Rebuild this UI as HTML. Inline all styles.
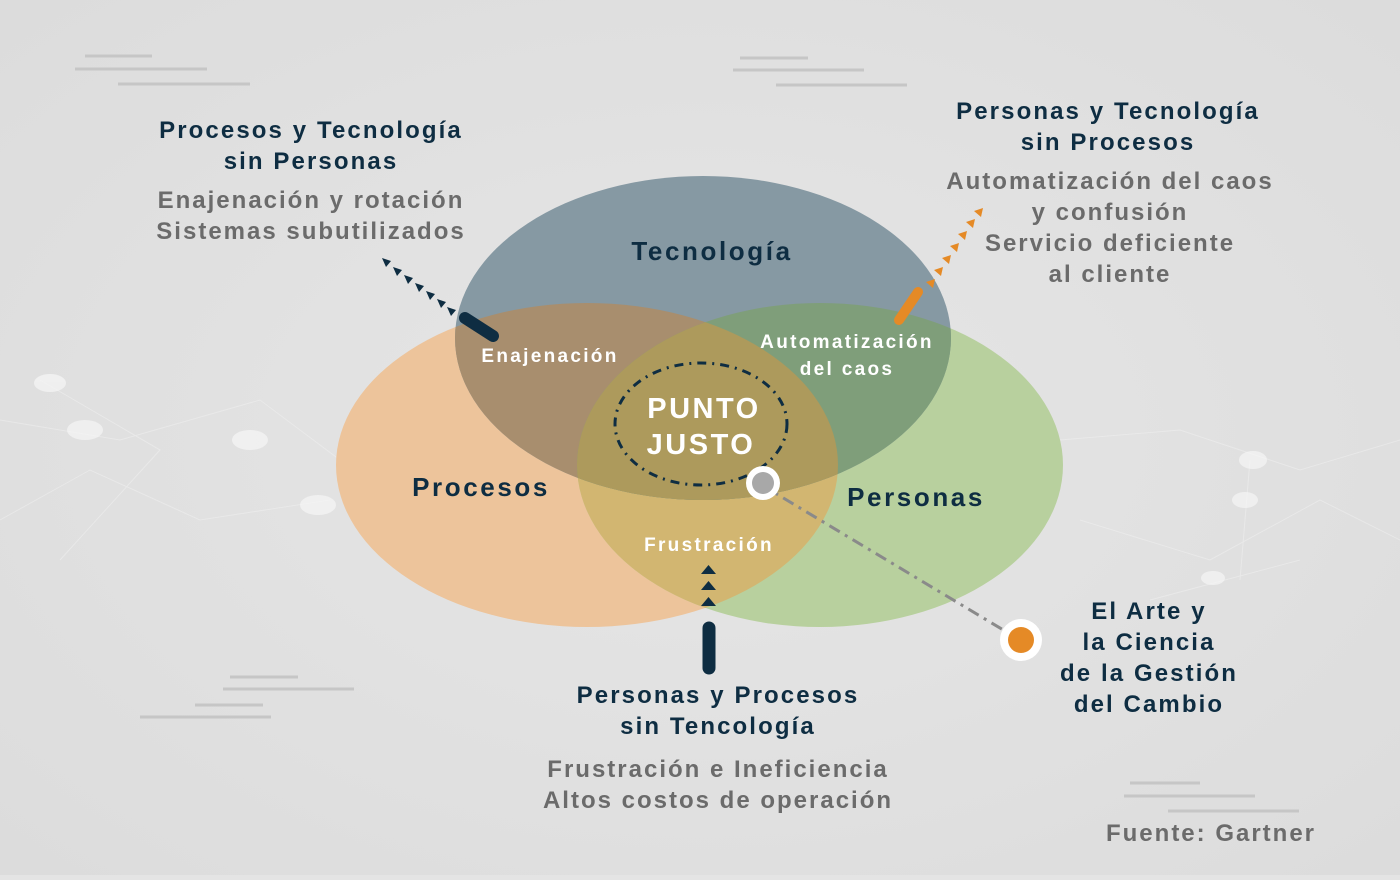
<!DOCTYPE html><html><head><meta charset="utf-8"><style>
body{margin:0;width:1400px;height:875px;overflow:hidden;background:#e4e4e4;font-family:"Liberation Sans",sans-serif}
</style></head><body>
<svg width="1400" height="875" viewBox="0 0 1400 875" xmlns="http://www.w3.org/2000/svg" font-family="Liberation Sans, sans-serif" font-weight="bold">
<defs>
<radialGradient id="bg" cx="0.5" cy="0.5" r="0.7"><stop offset="0" stop-color="#e6e6e6"/><stop offset="1" stop-color="#dcdcdc"/></radialGradient>
<clipPath id="cP"><ellipse cx="587" cy="465" rx="251" ry="162"/></clipPath>
<clipPath id="cG"><ellipse cx="820" cy="465" rx="243" ry="162"/></clipPath>
<clipPath id="cT"><ellipse cx="703" cy="338" rx="248" ry="162"/></clipPath>
</defs>
<rect width="1400" height="875" fill="url(#bg)"/>
<g stroke="#f2f2f2" stroke-width="1" opacity="0.5" fill="none">
<path d="M0 420 L120 440 L260 400 L340 460 M0 520 L90 470 L200 520 L330 500 M40 380 L160 450 L60 560 M1060 440 L1180 430 L1300 470 L1400 440 M1080 520 L1210 560 L1320 500 L1400 540 M1250 460 L1240 580 M1150 600 L1300 560"/>
</g>
<g fill="#f6f6f6" opacity="0.7"><ellipse cx="85" cy="430" rx="18" ry="10"/><ellipse cx="250" cy="440" rx="18" ry="10"/><ellipse cx="318" cy="505" rx="18" ry="10"/><ellipse cx="1253" cy="460" rx="14" ry="9"/><ellipse cx="1245" cy="500" rx="13" ry="8"/><ellipse cx="1213" cy="578" rx="12" ry="7"/><ellipse cx="50" cy="383" rx="16" ry="9"/></g>
<g stroke="#c6c6c6" stroke-width="3">
<line x1="85" y1="56" x2="152" y2="56"/><line x1="75" y1="69" x2="207" y2="69"/><line x1="118" y1="84" x2="250" y2="84"/>
<line x1="740" y1="58" x2="808" y2="58"/><line x1="733" y1="70" x2="864" y2="70"/><line x1="776" y1="85" x2="907" y2="85"/>
<line x1="230" y1="677" x2="298" y2="677"/><line x1="223" y1="689" x2="354" y2="689"/><line x1="195" y1="705" x2="263" y2="705"/><line x1="140" y1="717" x2="271" y2="717"/>
<line x1="1130" y1="783" x2="1200" y2="783"/><line x1="1124" y1="796" x2="1255" y2="796"/><line x1="1168" y1="811" x2="1299" y2="811"/>
</g>
<ellipse cx="587" cy="465" rx="251" ry="162" fill="#edc49b"/>
<ellipse cx="820" cy="465" rx="243" ry="162" fill="#b8d09e"/>
<ellipse cx="820" cy="465" rx="243" ry="162" fill="#d2b671" clip-path="url(#cP)"/>
<ellipse cx="703" cy="338" rx="248" ry="162" fill="#8699a3"/>
<g clip-path="url(#cT)"><ellipse cx="587" cy="465" rx="251" ry="162" fill="#a88e6e"/><ellipse cx="820" cy="465" rx="243" ry="162" fill="#7f9e7a"/>
<g clip-path="url(#cP)"><ellipse cx="820" cy="465" rx="243" ry="162" fill="#ad9a5c"/></g></g>
<ellipse cx="701" cy="424" rx="86" ry="61" fill="none" stroke="#0e2d42" stroke-width="3" stroke-dasharray="9 6 2 6"/>
<line x1="760" y1="484" x2="1020" y2="640" stroke="#8a8a8a" stroke-width="3" stroke-dasharray="12 6 3 6"/>
<circle cx="763" cy="483" r="17" fill="#fff"/><circle cx="763" cy="483" r="11" fill="#a8a8a8"/>
<circle cx="1021" cy="640" r="21" fill="#fff"/><circle cx="1021" cy="640" r="13" fill="#e58a26"/>
<line x1="465" y1="318" x2="493" y2="336" stroke="#0e2d42" stroke-width="12" stroke-linecap="round"/>
<g fill="#0e2d42"><path d="M382 258l9 3-5 6z"/><path d="M393 267l9 3-5 6z"/><path d="M404 275l9 3-5 6z"/><path d="M415 283l9 3-5 6z"/><path d="M426 291l9 3-5 6z"/><path d="M437 299l9 3-5 6z"/><path d="M447 307l9 3-5 6z"/></g>
<line x1="899" y1="320" x2="918" y2="292" stroke="#e58a26" stroke-width="10" stroke-linecap="round"/>
<g fill="#e58a26"><path d="M926 282l9-3-2 9z"/><path d="M934 270l9-3-2 9z"/><path d="M942 258l9-3-2 9z"/><path d="M950 246l9-3-2 9z"/><path d="M958 234l9-3-2 9z"/><path d="M966 222l9-3-2 9z"/><path d="M974 211l9-3-2 9z"/></g>
<line x1="709" y1="628" x2="709" y2="668" stroke="#0e2d42" stroke-width="13" stroke-linecap="round"/>
<g fill="#0e2d42"><path d="M701 574h15l-7.5-9z"/><path d="M701 590h15l-7.5-9z"/><path d="M701 606h15l-7.5-9z"/></g>
<g fill="#0e2d42" text-anchor="middle" font-size="26" letter-spacing="2.6">
<text x="712" y="260">Tecnología</text><text x="481" y="496">Procesos</text><text x="916" y="506">Personas</text></g>
<g fill="#fff" text-anchor="middle" font-size="19" letter-spacing="2.3"><text x="550" y="362">Enajenación</text><text x="847" y="348">Automatización</text><text x="847" y="375">del caos</text><text x="709" y="551">Frustración</text></g>
<g fill="#fff" text-anchor="middle" font-size="29" letter-spacing="2.5"><text x="704" y="418">PUNTO</text><text x="701" y="454">JUSTO</text></g>
<g fill="#0e2d42" text-anchor="middle" font-size="24" letter-spacing="2.1">
<text x="311" y="138">Procesos y Tecnología</text><text x="311" y="169">sin Personas</text>
<text x="1108" y="119">Personas y Tecnología</text><text x="1108" y="150">sin Procesos</text>
<text x="718" y="703">Personas y Procesos</text><text x="718" y="734">sin Tencología</text>
<text x="1149" y="619">El Arte y</text><text x="1149" y="650">la Ciencia</text><text x="1149" y="681">de la Gestión</text><text x="1149" y="712">del Cambio</text></g>
<g fill="#6b6b6b" text-anchor="middle" font-size="24" letter-spacing="2">
<text x="311" y="208">Enajenación y rotación</text><text x="311" y="239">Sistemas subutilizados</text>
<text x="1110" y="189">Automatización del caos</text><text x="1110" y="220">y confusión</text><text x="1110" y="251">Servicio deficiente</text><text x="1110" y="282">al cliente</text>
<text x="718" y="777">Frustración e Ineficiencia</text><text x="718" y="808">Altos costos de operación</text>
<text x="1211" y="841">Fuente: Gartner</text></g>
</svg>
</body></html>
